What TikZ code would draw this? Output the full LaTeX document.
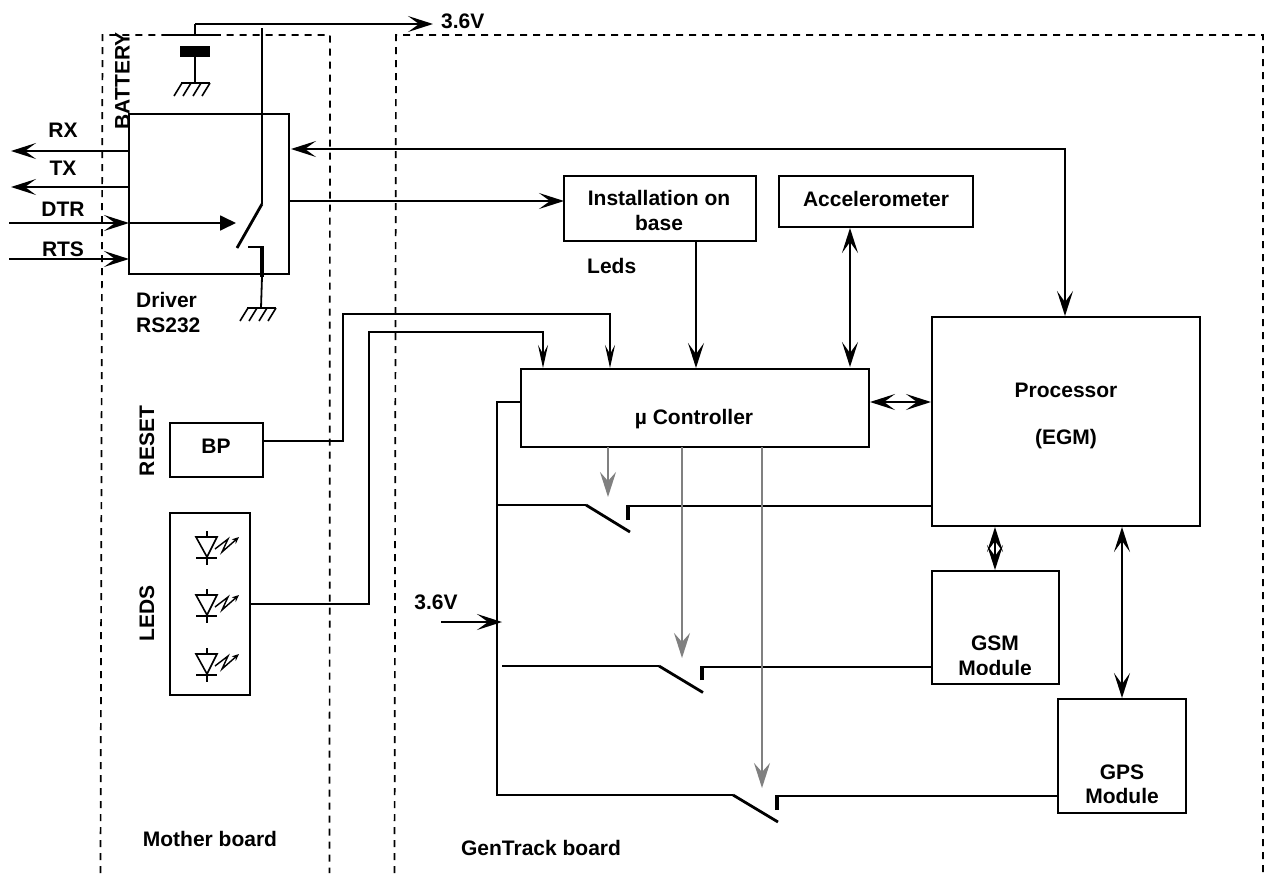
\documentclass[tikz,border=0pt]{standalone}
\usepackage{fontspec}
\setmainfont{Liberation Sans}
\usetikzlibrary{arrows.meta}
\tikzset{
  x=1pt,y=-1pt,
  box/.style={draw,line width=2pt,inner sep=0pt,outer sep=0pt,rectangle},
  wire/.style={line width=1.8pt},
  blade/.style={line width=2.8pt},
  contact/.style={line width=3.4pt},
  tipa/.style={-{Stealth[length=25pt,width=16pt,inset=11pt]}},
  tipthin/.style={-{Stealth[length=23pt,width=10pt,inset=9pt]}},
  tipb/.style={{Stealth[length=25pt,width=16pt,inset=11pt]}-{Stealth[length=25pt,width=16pt,inset=11pt]}},
  grayw/.style={line width=1.8pt,draw=black!50,-{Stealth[length=25pt,width=16pt,inset=9pt,black!50]}},
  bound/.style={line width=1.7pt,dash pattern=on 7pt off 6pt},
  lbl/.style={font=\fontsize{21}{24}\bfseries,inner sep=0pt,align=center}
}
\newcommand{\rbox}[5]{\node[box,minimum width=#4-#2,minimum height=#5-#3,anchor=north west] (#1) at (#2,#3) {};}
\newcommand{\groundsym}[2]{%
  \draw[line width=1.6pt] (#1-14,#2) -- (#1+15,#2);
  \foreach \i in {-13,-4,6,15}{\draw[line width=1.6pt] (#1+\i,#2) -- ++(-8,13);}
}
\newcommand{\ledsym}[2]{%
  \draw[line width=1.6pt] (#1,#2-6) -- (#1,#2) (#1-11,#2) -- (#1+10,#2) -- (#1,#2+20) -- cycle;
  \draw[line width=1.6pt] (#1-11,#2+21) -- (#1+10,#2+21) (#1,#2+21) -- (#1,#2+28);
  \draw[line width=1.4pt,-{Stealth[length=7pt,width=6pt]}] (#1+8,#2+12) -- (#1+21,#2+2) -- (#1+15,#2+15) -- (#1+32,#2);
}
\begin{document}
\begin{tikzpicture}
\useasboundingbox (0,0) rectangle (1266,873);
\fill[white] (0,0) rectangle (1266,873);
% boundaries
\draw[bound] (100.5,873) -- (102.5,35) -- (330,35) -- (329.5,873);
\draw[bound] (394.5,873) -- (396,35) -- (1263,35) -- (1263,873);
% boxes
\rbox{driver}{129}{114}{289}{274}
\rbox{install}{564}{176}{756}{241}
\rbox{accel}{779}{176}{973}{227}
\rbox{ctrl}{521}{369}{869}{447}
\rbox{proc}{932}{317}{1200}{526}
\rbox{gsm}{932}{571}{1059}{684}
\rbox{gps}{1058}{699}{1186}{813}
\rbox{bp}{170}{423}{263}{477}
\rbox{leds}{170}{513}{250}{695}
% labels in boxes
\node[lbl] at (659,198) {Installation on};
\node[lbl] at (659,223) {base};
\node[lbl] at (876,199) {Accelerometer};
\node[lbl] at (694,419) {µ Controller};
\node[lbl] at (1066,390) {Processor};
\node[lbl] at (1066,439) {(EGM)};
\node[lbl] at (995,643) {GSM};
\begin{scope}
\clip (940,650) rectangle (1050,674);
\node[lbl] at (995,668) {Module};
\end{scope}
\node[lbl] at (1122,772) {GPS};
\node[lbl] at (1122,796) {Module};
\node[lbl] at (216,446) {BP};
% outer labels
\node[lbl,anchor=west] at (441,21) {3.6V};
\node[lbl,rotate=90] at (122.5,81) {BATTERY};
\node[lbl] at (63,130) {RX};
\node[lbl] at (63,168) {TX};
\node[lbl] at (63,209) {DTR};
\node[lbl] at (63,249) {RTS};
\node[lbl,anchor=west] at (136,300) {Driver};
\node[lbl,anchor=west] at (136,325) {RS232};
\node[lbl,anchor=west] at (587,266) {Leds};
\node[lbl,rotate=90] at (147,441) {RESET};
\node[lbl,rotate=90] at (147,613) {LEDS};
\node[lbl] at (436,602) {3.6V};
\node[lbl] at (210,839) {Mother board};
\node[lbl] at (541,848) {GenTrack board};
% battery
\coordinate (v36) at (433,24);
\coordinate (battop) at (195,24);
\draw[wire,tipa] (battop) -- (v36);
\draw[wire] (battop) -- (195,35);
\draw[wire] (168,35) -- (221,35);
\fill (180,46) rectangle (210,57);
\draw[wire] (195,57) -- (195,83);
\groundsym{195}{83}
% driver switch
\draw[wire] (262,28) -- (262,204);
\draw[blade] (262,204) -- (237,248);
\draw[wire,line width=2.6pt] (248,247) -- (262,247);
\draw[contact] (262,246) -- (262,277);
\draw[wire] (262,277) -- (261,308);
\groundsym{261}{308}
% RX etc.
\coordinate (rxe) at (11,151); \coordinate (txe) at (11,187);
\coordinate (dtre) at (9,223); \coordinate (rtse) at (9,259);
\coordinate (swin) at (236,223);
\draw[wire,tipa] (driver.west |- rxe) -- (rxe);
\draw[wire,tipa] (driver.west |- txe) -- (txe);
\draw[wire,tipa] (dtre) -- (driver.west |- dtre);
\draw[wire,-{Triangle[length=16pt,width=15pt]}] (driver.west |- dtre) -- (swin);
\draw[wire,tipa] (rtse) -- (driver.west |- rtse);
% driver to proc
\draw[wire,tipb] (291,149) -- (1065,149) -- (1065,316);
\draw[wire,tipa] (driver.east |- 0,201) -- (install.west |- 0,201);
% to ctrl
\draw[wire,tipa] (696,241) -- (696,368);
\draw[wire,tipb] (850,228) -- (850,367);
\draw[wire,tipb] (870,402) -- (931,402);
% BP, LED
\draw[wire,tipthin] (bp.east |- 0,441) -- (343,441) -- (343,314) -- (610,314) -- (610,368);
\draw[wire,tipthin] (leds.east |- 0,604) -- (369,604) -- (369,332) -- (543,332) -- (543,368);
% LEDs
\ledsym{207}{537}
\ledsym{207}{595}
\ledsym{207}{654}
% power rail
\draw[wire] (ctrl.west |- 0,402) -- (497,402) -- (497,795) -- (733,795);
\coordinate (v2) at (441,622);
\coordinate (rail) at (502,622);
\draw[wire,tipa] (v2) -- (rail);
\draw[wire] (497,505) -- (586,505);
\draw[blade] (586,505) -- (630,532);
\draw[contact] (628,520) -- (628,505);
\draw[wire] (626.5,506) -- (proc.west |- 0,506);
\draw[line width=2.2pt] (502,666) -- (659,666);
\draw[blade] (659,666) -- (703,692.5);
\draw[contact] (702,680) -- (702,666);
\draw[wire] (700.5,667) -- (gsm.west |- 0,667);
\draw[blade] (733,795) -- (778,822);
\draw[contact] (777,810) -- (777,795);
\draw[wire] (775.5,796) -- (gps.west |- 0,796);
% gray controls
\draw[grayw] (608,447) -- (608,497);
\draw[grayw] (682,447) -- (682,658);
\draw[grayw] (762,447) -- (762,788);
% proc to modules
\draw[wire,tipb] (995,527) -- (995,570);
\draw[wire,tipb] (1122,527) -- (1122,698);
\end{tikzpicture}
\end{document}
